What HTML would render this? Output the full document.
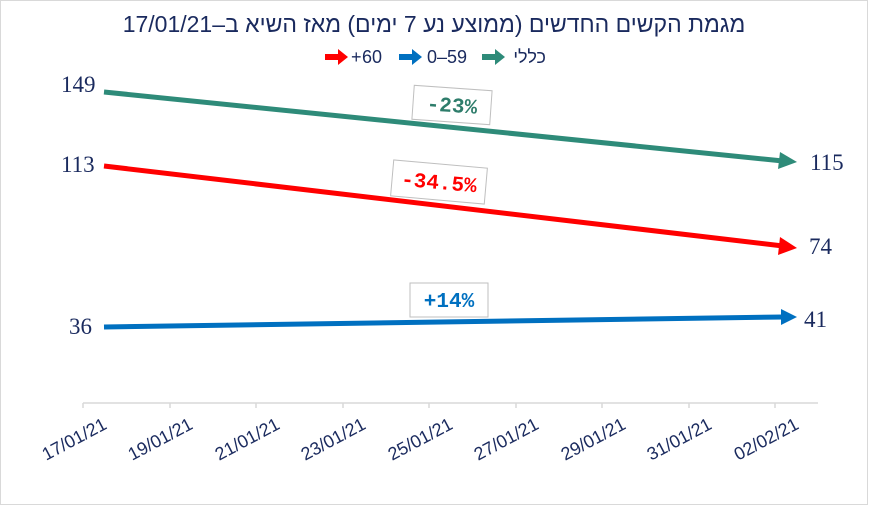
<!DOCTYPE html>
<html><head><meta charset="utf-8"><style>
body{margin:0;background:#fff}
svg{display:block}
.n{font-family:"Liberation Serif",serif;font-size:23px;fill:#1a2a5e}
.t{font-family:"Liberation Sans",sans-serif;fill:#1a2a5e}
.p{font-family:"Liberation Mono",monospace;font-weight:bold;font-size:21px}
</style></head><body>
<svg width="869" height="506" viewBox="0 0 869 506">
<rect x="0.5" y="0.5" width="867" height="504" fill="#fff" stroke="#d9d9d9"/>
<text x="434" y="32" text-anchor="middle" class="t" font-size="23" direction="rtl">מגמת הקשים החדשים (ממוצע נע 7 ימים) מאז השיא ב–17/01/21</text>
<g font-family="Liberation Sans,sans-serif" font-size="18" fill="#1a2a5e">
<path d="M325 54h13v-5l10 8-10 8v-5h-13z" fill="#ff0000"/><text x="351" y="63">+</text><text x="362" y="63">60</text>
<path d="M399 54h13v-5l10 8-10 8v-5h-13z" fill="#0070c0"/><text x="427" y="63">0–59</text>
<path d="M482 54h13v-5l10 8-10 8v-5h-13z" fill="#2e8b79"/><text x="546" y="63" direction="rtl">כללי</text>
</g>
<g stroke-width="5" fill="none">
<line x1="104" y1="92" x2="783" y2="161" stroke="#2e8b79"/>
<line x1="104" y1="166" x2="783" y2="246" stroke="#ff0000"/>
<line x1="104" y1="327" x2="783" y2="317" stroke="#0070c0"/>
</g>
<path d="M780 152l17 10-19 7z" fill="#2e8b79"/>
<path d="M780 237l17 11-19 7z" fill="#ff0000"/>
<path d="M781 309l16 8-16 8z" fill="#0070c0"/>
<text x="61" y="92" class="n">149</text>
<text x="61" y="172" class="n">113</text>
<text x="69" y="334" class="n">36</text>
<text x="810" y="170" class="n">115</text>
<text x="809" y="254" class="n">74</text>
<text x="804" y="327" class="n">41</text>
<g transform="rotate(4 452 105)"><rect x="413" y="88" width="78" height="34" fill="#fff" stroke="#bfbfbf"/><text x="452" y="112" text-anchor="middle" class="p" fill="#2e7d6b">-23%</text></g>
<g transform="rotate(5 439 182)"><rect x="392" y="164" width="94" height="36" fill="#fff" stroke="#bfbfbf"/><text x="439" y="189" text-anchor="middle" class="p" fill="#ff0000">-34.5%</text></g>
<rect x="410" y="283" width="78" height="34" fill="#fff" stroke="#bfbfbf"/><text x="449" y="307" text-anchor="middle" class="p" fill="#0070c0">+14%</text>
<g stroke="#d9d9d9" stroke-width="1.5">
<line x1="83" y1="403" x2="818" y2="403"/>
<line x1="83" y1="403" x2="83" y2="408"/><line x1="170" y1="403" x2="170" y2="408"/><line x1="256" y1="403" x2="256" y2="408"/><line x1="343" y1="403" x2="343" y2="408"/><line x1="429" y1="403" x2="429" y2="408"/><line x1="516" y1="403" x2="516" y2="408"/><line x1="602" y1="403" x2="602" y2="408"/><line x1="689" y1="403" x2="689" y2="408"/><line x1="775" y1="403" x2="775" y2="408"/>
</g>
<g class="t" font-size="18" text-anchor="end">
<text transform="translate(108 428) rotate(-28)">17/01/21</text>
<text transform="translate(194 428) rotate(-28)">19/01/21</text>
<text transform="translate(281 428) rotate(-28)">21/01/21</text>
<text transform="translate(367 428) rotate(-28)">23/01/21</text>
<text transform="translate(454 428) rotate(-28)">25/01/21</text>
<text transform="translate(540 428) rotate(-28)">27/01/21</text>
<text transform="translate(627 428) rotate(-28)">29/01/21</text>
<text transform="translate(713 428) rotate(-28)">31/01/21</text>
<text transform="translate(800 428) rotate(-28)">02/02/21</text>
</g>
</svg>
</body></html>
